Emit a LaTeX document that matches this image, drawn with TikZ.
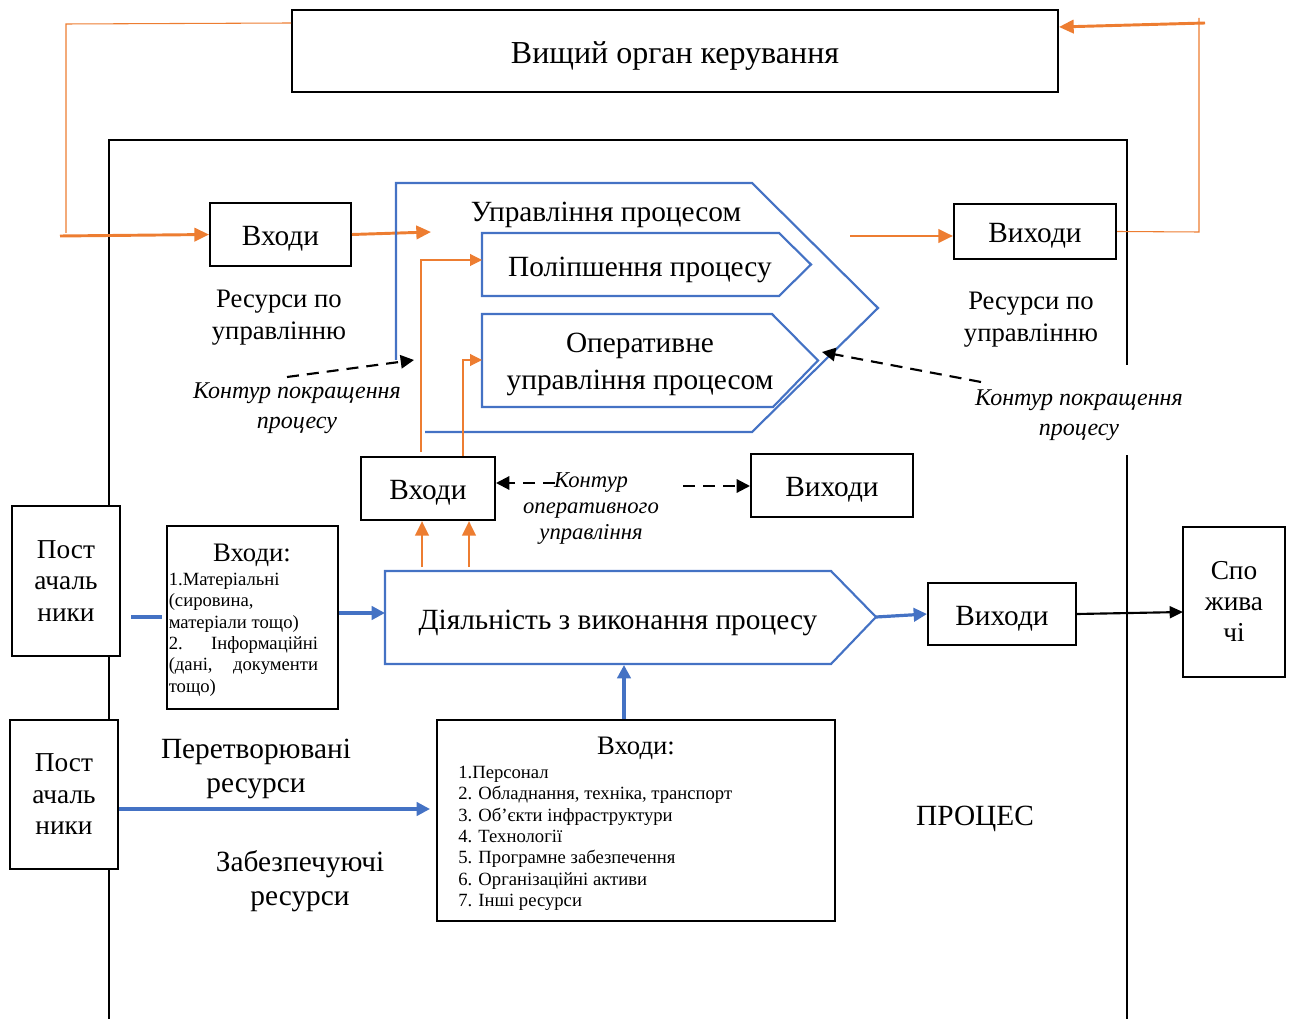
\documentclass[tikz,border=0pt]{standalone}
\usepackage{fontspec}
\setmainfont{Liberation Serif}
\usetikzlibrary{arrows.meta,calc}
\newdimen\px \px=0.75pt
\newcommand\lowtxt[1]{\raisebox{-0.38em}[0pt][0pt]{#1}}
\definecolor{orng}{HTML}{ED7D31}
\definecolor{blu}{HTML}{4472C4}
\begin{document}
\begin{tikzpicture}[x=0.75pt,y=-0.75pt,
  box/.style={draw=black,line width=1.5pt,fill=white,inner sep=0pt,align=center},
  onebox/.style={box,font=\fontsize{22}{24}\selectfont},
  lbl/.style={inner sep=0pt,align=center,yshift=-2pt,font=\fontsize{22}{24}\selectfont},
  ital/.style={inner sep=0pt,align=center,yshift=-1.5pt,font=\fontsize{18}{22.5}\selectfont\itshape},
  small/.style={inner sep=0pt,align=left,font=\fontsize{14}{16}\selectfont},
  othick/.style={draw=orng,line width=2.2pt,-{Triangle[length=11pt,width=10pt]}},
  othin/.style={draw=orng,line width=0.8pt},
  othinarr/.style={draw=orng,line width=0.8pt,-{Triangle[length=9pt,width=9pt]}},
  bline/.style={draw=blu,line width=1.6pt},
  barr/.style={draw=blu,line width=2.4pt,-{Triangle[length=10pt,width=10pt]}},
  karr/.style={draw=black,line width=1.6pt,-{Triangle[length=10pt,width=9pt]}},
  kdash/.style={draw=black,line width=1.6pt,dash pattern=on 9pt off 6pt,-{Triangle[length=10pt,width=10pt]}}
]
\useasboundingbox (0,0) rectangle (1291,1019);

% top box
\node[box,minimum width=766\px,minimum height=82\px,font=\fontsize{24}{28}\selectfont] (top) at (675,51) {\lowtxt{Вищий орган керування}};

% process frame
\draw[line width=1.5pt] (109,1025) -- (109,140) -- (1127,140) -- (1127,365);
\draw[line width=1.5pt] (1127,455) -- (1127,1025);

% upper inputs/outputs
\node[onebox,minimum width=141\px,minimum height=63\px] (in1) at (280.5,234.5) {\lowtxt{Входи}};
\node[onebox,minimum width=162\px,minimum height=55\px] (out1) at (1035,231.5) {\lowtxt{Виходи}};

\coordinate (lstart) at (60,236);
\coordinate (lcorner) at (66,24);
\coordinate (topw) at ($(top.north west)+(0,14)$);
\draw[othin] (66,233) -- (lcorner) -- (topw);
\draw[othick] (lstart) -- (in1.west);
\coordinate (hexin) at (431,232);
\draw[othick] (in1.east) -- (hexin);

\coordinate (outsrc) at (850,236);
\draw[othick] (outsrc) -- (out1.west |- outsrc);
\coordinate (rcorner) at (1199,232);
\coordinate (rtop) at (1199,18);
\draw[othin] (out1.east) -- (rcorner) -- (rtop);
\coordinate (rarr) at (1205,23);
\coordinate (tope) at ($(top.north east)+(0,18)$);
\draw[othick] (rarr) -- (tope);

% management hexagon
\draw[bline] (396,360) -- (396,183) -- (752,183) -- (878,308) -- (752,432) -- (425,432);
\node[lbl] (upr) at (606,212) {Управління процесом};
\draw[bline] (482,233) -- (779,233) -- (811,264.5) -- (779,296) -- (482,296) -- cycle;
\node[lbl] (pol) at (640,267) {Поліпшення процесу};
\draw[bline] (482,314) -- (772,314) -- (818,360.5) -- (773,407) -- (482,407) -- cycle;
\node[lbl,font=\fontsize{22}{27.5}\selectfont] (oper) at (640,362) {Оперативне\\управління процесом};

% labels
\node[lbl,font=\fontsize{20}{24}\selectfont] (resL) at (279,315) {Ресурси по\\управлінню};
\node[lbl,font=\fontsize{20}{24}\selectfont] (resR) at (1031,317) {Ресурси по\\управлінню};
\node[ital] (konL) at (297,406) {Контур покращення\\процесу};
\node[ital] (konR) at (1079,413) {Контур покращення\\процесу};
\coordinate (dLs) at (287,377);
\coordinate (dLe) at (414,360);
\draw[kdash] (dLs) -- (dLe);
\coordinate (dRs) at (981,382);
\coordinate (dRe) at (822,352);
\draw[kdash] (dRs) -- (dRe);

% middle inputs/outputs
\node[onebox,minimum width=134\px,minimum height=63\px] (in2) at (428,488.5) {\lowtxt{Входи}};
\node[onebox,minimum width=162\px,minimum height=63\px] (out2) at (832,485.5) {\lowtxt{Виходи}};
\coordinate (pa) at (482,260);
\coordinate (pb) at (482,360);
\draw[othinarr] (421,452) -- (421,260) -- (pa);
\draw[othinarr] (in2.north -| 463,0) -- (463,360) -- (pb);
\node[ital,font=\fontsize{17}{19.5}\selectfont\itshape] (konO) at (591,507) {Контур\\оперативного\\управління};
\coordinate (dOs) at (555,483);
\draw[kdash] (dOs) -- (in2.east |- dOs);
\coordinate (dOr) at (683,486);
\draw[kdash] (dOr) -- (out2.west |- dOr);

% activity pentagon
\draw[bline] (385,571) -- (831,571) -- (876,617) -- (831,664) -- (385,664) -- cycle;
\coordinate (actp) at (876,617);
\coordinate (actw) at (385,613);
\coordinate (acts) at (624,665);
\node[lbl] (act) at (618,620) {Діяльність з виконання процесу};
\coordinate (u1) at (422,567);
\coordinate (u2) at (469,567);
\draw[othick] (u1) -- (u1 |- in2.south);
\draw[othick] (u2) -- (u2 |- in2.south);

% outputs and consumers
\node[onebox,minimum width=148\px,minimum height=62\px] (out3) at (1002,614) {\lowtxt{Виходи}};
\node[box,minimum width=102\px,minimum height=150\px,font=\fontsize{20.5}{23.4}\selectfont] (cons) at (1234,601.5) {Спо\\жива\\чі};
\draw[barr] (actp) -- (out3.west);
\coordinate (consin) at (1183,612);
\draw[karr] (out3.east) -- (consin);

% suppliers
\node[box,minimum width=108\px,minimum height=150\px,font=\fontsize{20.5}{23.6}\selectfont] (sup1) at (66,581) {Пост\\ачаль\\ники};
\node[box,minimum width=108\px,minimum height=149\px,font=\fontsize{20.5}{23.6}\selectfont] (sup2) at (64,794.5) {Пост\\ачаль\\ники};

% inputs A
\node[box,minimum width=171\px,minimum height=183\px] (inA) at (252.5,617.5) {};
\node[lbl,font=\fontsize{20}{24}\selectfont] (inAt) at (252,553) {Входи:};
\node[small,anchor=west] (inAl) at (168.5,634.5) {1.Матеріальні\\(сировина,\\матеріали тощо)\\\makebox[112pt][s]{2. Інформаційні}\\\makebox[112pt][s]{(дані, документи}\\тощо)};
\coordinate (bs1) at (131,617);
\coordinate (bs2) at (162,617);
\draw[draw=blu,line width=2.4pt] (bs1) -- (bs2);
\draw[barr] (inA.east |- actw) -- (actw);

% inputs B
\node[box,minimum width=398\px,minimum height=201\px] (inB) at (636,820.5) {};
\node[lbl,font=\fontsize{20}{24}\selectfont] (inBt) at (636,746) {Входи:};
\node[small] (inBl) at (458,838.5) [anchor=west] {1.Персонал\\2. Обладнання, техніка, транспорт\\3. Об’єкти інфраструктури\\4. Технології\\5. Програмне забезпечення\\6. Організаційні активи\\7. Інші ресурси};
\draw[barr] (inB.north -| acts) -- (acts);
\coordinate (bB) at (430,809);
\draw[barr] (sup2.east |- bB) -- (bB);

\node[lbl,font=\fontsize{22}{25.5}\selectfont] (perT) at (256,766) {Перетворювані\\ресурси};
\node[lbl,font=\fontsize{22}{25.5}\selectfont] (zabT) at (300,878) {Забезпечуючі\\ресурси};
\node[lbl] (proc) at (975,816) {ПРОЦЕС};
\end{tikzpicture}
\end{document}
